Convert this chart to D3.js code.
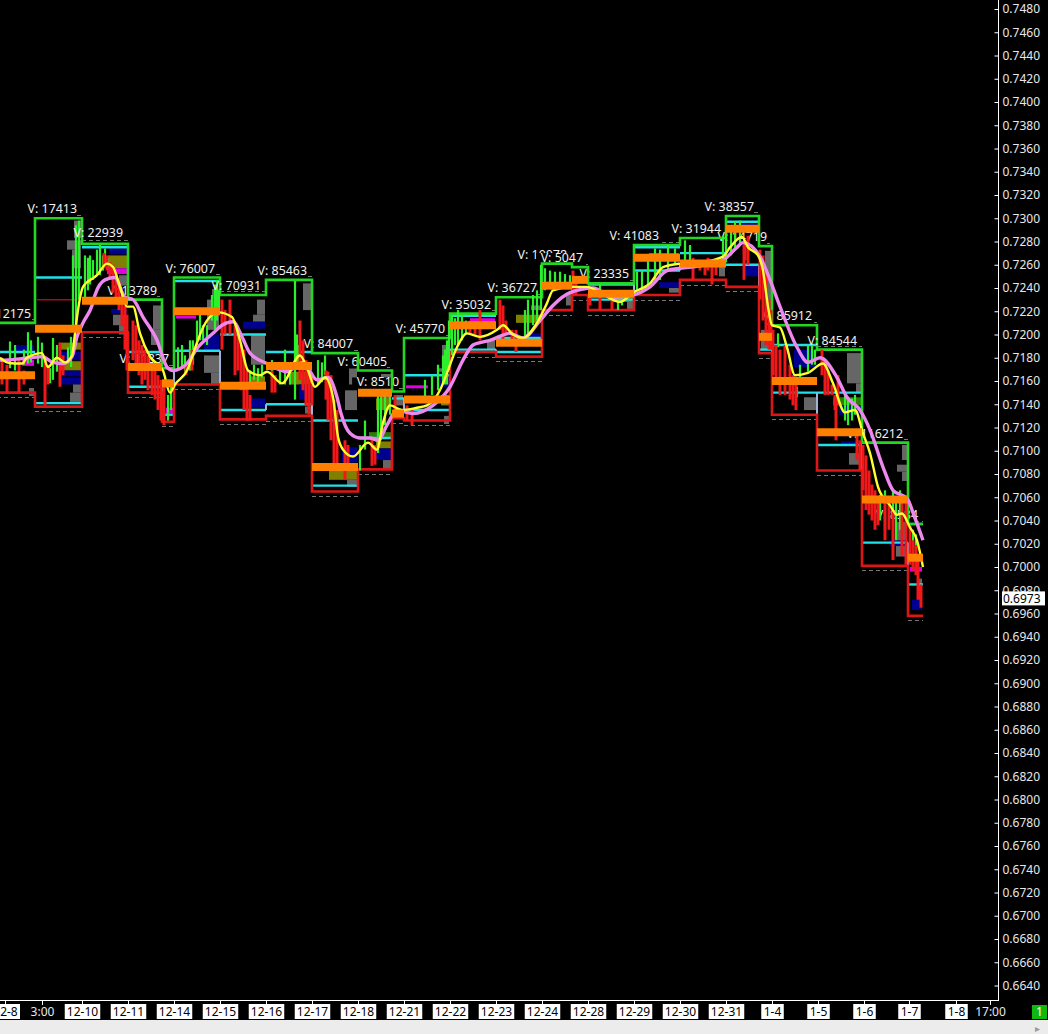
<!DOCTYPE html>
<html><head><meta charset="utf-8">
<script src="https://cdn.jsdelivr.net/npm/d3@7/dist/d3.min.js"></script>
<style>html,body{margin:0;padding:0;background:#000;overflow:hidden}svg{display:block}text{font-family:"Noto Sans",sans-serif}</style>
</head><body><svg id="c" width="1048" height="1034"></svg>
<script>
// prices in pips (price x 10000); bars are bar indices on the time axis
const priceTicks = d3.range(6640, 7481, 20);
const lastPrice = 6973;
const dateTicks = [[5,"12-8",1],[42,"3:00",0],[82,"12-10",1],[128,"12-11",1],[174,"12-14",1],[220,"12-15",1],[266,"12-16",1],[312,"12-17",1],[358,"12-18",1],[404,"12-21",1],[450,"12-22",1],[496,"12-23",1],[542,"12-24",1],[588,"12-28",1],[634,"12-29",1],[680,"12-30",1],[726,"12-31",1],[772,"1-4",1],[818,"1-5",1],[864,"1-6",1],[909,"1-7",1],[956,"1-8",1],[990,"17:00",0]];
const sessionStart = [-10,35,82,128,162,174,220,266,312,358,392,404,450,496,542,572,588,634,680,726,759,772,817,862,908];
const sessionEnd   = [35,82,128,162,174,220,266,312,358,392,404,450,496,542,572,588,634,680,726,759,772,817,862,908,923];
const sessionHigh  = [7210,7300,7278,7230,7171,7249,7234,7247,7184,7169,7151,7197,7218,7232,7261,7258,7244,7277,7283,7302,7276,7208,7187,7107,7037];
const sessionLow   = [7150,7138,7202,7150,7125,7157,7127,7130,7065,7084,7128,7126,7185,7181,7221,7234,7221,7234,7247,7241,7184,7131,7083,7001,6958];
const sessionPoc   = [7165,7205,7229,7172,7158,7220,7156,7173,7086,7150,7132,7144,7208,7193,7242,7247,7235,7266,7261,7291,7198,7160,7116,7058,7008];
const vaHigh = [7185,7249,7275,7185,null,7246,7200,7185,7126,7111,null,7165,7216,7197,null,null,7243,7275,7270,7297,null,7191,7150,null,7037];
const vaLow  = [null,7141,null,7155,7131,7186,7135,7140,7070,null,7145,7135,7187,7185,null,null,7230,7255,7260,7260,7187,7150,7105,7021,6985];
const volumes = ["12175","17413","22939","13789","11837","76007","70931","85463","84007","60405","8510","45770","35032","36727","10078","5047","23335","41083","31944","38357","14719","85912","84544","116212","8584"];
// profile rows: session, top price, bottom price, volume, kind
const profileRows = [
[0,7191,7185,20,"n"],[0,7178,7173,12,"m"],[0,7154,7147,5,"g"],
[1,7298,7283,7,"g"],[1,7281,7273,14,"g"],[1,7273,7257,9,"g"],[1,7193,7187,22,"o"],[1,7185,7178,20,"n"],[1,7177,7169,22,"o"],[1,7169,7164,22,"n"],[1,7163,7157,22,"n"],[1,7157,7150,8,"g"],[1,7150,7142,11,"g"],
[2,7274,7269,18,"n"],[2,7268,7257,19,"o"],[2,7257,7252,20,"m"],[2,7251,7230,8,"g"],[2,7222,7218,16,"n"],[2,7217,7208,14,"g"],[2,7208,7200,8,"g"],
[3,7225,7204,8,"g"],[3,7204,7191,10,"g"],[3,7185,7169,14,"n"],[4,7137,7132,7,"m"],
[5,7239,7230,7,"g"],[5,7230,7204,12,"g"],[5,7200,7187,15,"n"],[5,7182,7167,15,"g"],[5,7167,7157,8,"g"],
[6,7230,7217,8,"g"],[6,7217,7211,12,"g"],[6,7211,7205,22,"n"],[6,7200,7174,14,"g"],[6,7164,7159,15,"o"],[6,7145,7137,15,"n"],
[7,7244,7221,8,"g"],[7,7168,7157,22,"o"],[7,7157,7144,12,"n"],[7,7138,7132,6,"g"],
[8,7174,7157,8,"g"],[8,7152,7135,12,"g"],[8,7103,7090,15,"n"],[8,7083,7075,28,"o"],[8,7075,7069,10,"g"],
[9,7166,7144,10,"g"],[9,7145,7135,15,"o"],[9,7116,7111,22,"d"],[9,7108,7102,15,"o"],[9,7102,7092,15,"n"],[9,7092,7085,8,"g"],
[10,7148,7139,8,"g"],
[11,7191,7178,7,"g"],[11,7171,7168,12,"g"],[11,7163,7155,10,"n"],[11,7148,7139,8,"o"],[11,7130,7123,5,"g"],
[12,7214,7210,25,"m"],[12,7195,7187,8,"g"],
[13,7225,7221,10,"g"],[13,7217,7210,25,"o"],[13,7201,7193,15,"n"],
[14,7236,7225,5,"g"],[16,7228,7222,6,"g"],[16,7232,7228,20,"o"],
[17,7270,7265,30,"o"],[17,7245,7240,20,"n"],[17,7240,7236,10,"g"],
[18,7260,7250,6,"g"],[19,7297,7290,18,"n"],[19,7287,7279,10,"g"],[19,7260,7250,15,"n"],
[20,7272,7208,6,"g"],[20,7204,7187,10,"g"],
[21,7187,7172,22,"n"],[21,7146,7135,12,"g"],
[22,7184,7158,14,"g"],[22,7158,7150,5,"g"],[22,7146,7139,28,"d"],[22,7139,7131,22,"n"],[22,7108,7105,20,"n"],[22,7098,7088,12,"g"],
[23,7105,7092,5,"g"],[23,7088,7082,10,"g"],[23,7082,7074,5,"g"],[23,7046,7009,11,"g"],[23,7023,7018,18,"n"],
[24,6972,6963,10,"n"],[24,6990,6972,5,"g"],[24,7000,6996,12,"m"]];
const levelRows = [[176,196,7215],[406,428,7155]];
const darkLevelRows = [[37,75,7230]];
const yellowBars = [0,7,15,22,27,42,48,57,65,72,75,78,83,97,107,113,120,127,133,140,150,163,170,175,187,197,203,218,232,240,248,260,267,282,300,308,315,325,333,338,343,353,368,377,383,390,402,417,427,441,447,457,467,480,497,503,513,523,537,547,553,573,587,600,620,633,650,663,680,700,723,730,742,748,758,763,768,772,780,787,795,808,823,833,845,855,863,870,878,890,897,902,910,917,923];
const yellowVals = [7180,7176,7175,7175,7180,7184,7172,7180,7176,7182,7201,7221,7241,7251,7261,7258,7241,7224,7224,7201,7181,7169,7150,7157,7169,7193,7206,7219,7215,7195,7169,7165,7168,7158,7182,7169,7155,7163,7146,7112,7101,7095,7107,7101,7124,7139,7135,7137,7139,7154,7167,7189,7201,7198,7204,7208,7200,7197,7210,7227,7238,7241,7241,7236,7228,7236,7244,7258,7261,7262,7267,7275,7284,7275,7268,7255,7224,7208,7206,7189,7165,7167,7175,7158,7133,7135,7115,7098,7069,7053,7045,7046,7034,7023,7000];
const pinkBars = [0,5,30,42,53,63,72,77,83,92,95,105,115,125,133,143,157,167,173,187,197,213,222,233,242,250,267,287,303,317,328,337,341,350,360,370,378,387,397,413,433,450,463,473,480,490,510,523,540,553,570,593,613,633,650,667,680,700,723,737,743,760,770,780,797,808,820,837,847,860,870,883,893,907,915,923];
const pinkVals = [7178,7178,7180,7181,7176,7175,7181,7198,7210,7225,7234,7247,7249,7232,7230,7215,7195,7172,7169,7175,7188,7201,7208,7211,7198,7184,7175,7168,7176,7161,7163,7146,7132,7115,7111,7111,7109,7122,7135,7132,7139,7155,7178,7191,7193,7195,7201,7197,7212,7225,7236,7240,7232,7234,7241,7255,7257,7259,7264,7275,7279,7267,7247,7224,7189,7176,7180,7163,7146,7135,7118,7086,7066,7059,7042,7023];
const upBars = [[10,7194,7171],[15,7191,7169],[24,7187,7174],[28,7202,7175],[31,7195,7176],[38,7198,7175],[42,7193,7172],[50,7171,7158],[53,7197,7161],[57,7191,7168],[68,7189,7175],[71,7198,7172],[73,7268,7204],[76,7294,7204],[79,7298,7230],[85,7268,7230],[88,7266,7238],[90,7268,7243],[93,7264,7247],[97,7273,7251],[100,7277,7251],[103,7268,7255],[105,7274,7260],[108,7266,7257],[168,7148,7126],[171,7157,7135],[178,7189,7169],[182,7191,7171],[185,7182,7168],[190,7195,7169],[193,7195,7174],[197,7212,7191],[200,7217,7195],[203,7208,7195],[207,7208,7191],[212,7234,7212],[215,7243,7204],[217,7247,7212],[219,7238,7221],[250,7169,7159],[254,7174,7161],[258,7171,7159],[262,7174,7163],[272,7178,7159],[280,7169,7157],[285,7187,7157],[290,7169,7157],[295,7246,7144],[297,7200,7174],[299,7191,7174],[318,7178,7157],[322,7176,7159],[325,7182,7165],[360,7105,7083],[365,7126,7101],[378,7148,7098],[381,7148,7109],[385,7152,7122],[390,7148,7131],[425,7161,7145],[432,7165,7148],[438,7174,7152],[443,7182,7157],[445,7187,7157],[447,7195,7157],[449,7212,7169],[452,7217,7182],[455,7214,7191],[458,7221,7191],[462,7217,7195],[466,7212,7200],[525,7221,7195],[528,7230,7200],[533,7234,7208],[537,7238,7212],[541,7260,7221],[545,7257,7238],[550,7255,7243],[555,7254,7243],[560,7254,7245],[565,7252,7240],[570,7251,7240],[600,7243,7234],[618,7238,7221],[622,7234,7225],[637,7254,7238],[642,7255,7236],[648,7268,7243],[655,7274,7247],[660,7273,7247],[668,7277,7255],[675,7274,7260],[685,7281,7260],[690,7277,7262],[723,7285,7264],[726,7290,7262],[731,7294,7268],[735,7297,7273],[740,7298,7277],[778,7201,7189],[797,7155,7146],[800,7174,7157],[808,7191,7168],[812,7191,7174],[815,7187,7174],[845,7148,7126],[848,7144,7122],[852,7145,7126],[855,7148,7131],[880,7062,7040],[885,7066,7032],[893,7066,7036],[896,7059,7023],[900,7066,7032],[913,7032,7015],[916,7028,7006]];
const downBars = [[2,7180,7157],[7,7174,7150],[19,7178,7150],[24,7169,7157],[45,7181,7139],[48,7174,7157],[60,7193,7155],[63,7182,7165],[104,7270,7257],[107,7268,7255],[110,7262,7247],[113,7260,7236],[116,7254,7230],[119,7245,7221],[122,7234,7208],[125,7225,7187],[127,7217,7169],[133,7212,7178],[136,7208,7169],[139,7195,7165],[142,7191,7157],[145,7187,7161],[148,7182,7152],[152,7174,7148],[155,7171,7144],[158,7165,7135],[161,7161,7126],[164,7157,7122],[186,7174,7165],[192,7187,7169],[222,7230,7187],[225,7221,7200],[230,7230,7200],[235,7208,7165],[238,7204,7169],[241,7191,7152],[244,7187,7135],[247,7169,7126],[250,7148,7126],[272,7169,7150],[275,7165,7150],[300,7212,7161],[303,7195,7152],[306,7178,7139],[309,7169,7131],[312,7165,7139],[326,7169,7144],[328,7168,7126],[331,7165,7109],[334,7144,7083],[337,7135,7083],[345,7109,7075],[348,7105,7083],[372,7111,7087],[375,7105,7088],[395,7148,7135],[407,7139,7126],[412,7135,7122],[470,7212,7200],[475,7208,7200],[480,7221,7195],[500,7230,7204],[503,7225,7195],[506,7212,7200],[512,7204,7191],[516,7204,7185],[573,7255,7234],[576,7247,7234],[590,7238,7225],[600,7238,7221],[612,7234,7221],[693,7266,7247],[700,7262,7255],[705,7264,7251],[708,7266,7255],[712,7264,7243],[716,7262,7251],[744,7277,7247],[745,7281,7264],[748,7285,7260],[760,7273,7230],[763,7268,7212],[766,7255,7191],[769,7230,7187],[771,7221,7187],[773,7204,7165],[776,7191,7161],[780,7187,7148],[785,7191,7148],[790,7174,7144],[793,7165,7139],[796,7161,7135],[822,7187,7165],[825,7178,7148],[828,7169,7148],[832,7157,7148],[835,7148,7135],[836,7148,7109],[838,7165,7139],[857,7118,7092],[860,7109,7083],[863,7105,7066],[866,7096,7049],[869,7083,7045],[872,7071,7040],[875,7066,7032],[878,7058,7036],[885,7058,7023],[889,7058,7032],[893,7049,7006],[902,7058,7010],[906,7058,7002],[910,7036,7002],[913,7023,6997],[916,7019,6993],[918,7006,6972],[921,6985,6965]];

const x = d3.scaleLinear().domain([0,998]).range([0,998]);
const y = d3.scaleLinear().domain([6640,7480]).range([985.5,9]);
const vol = d3.scaleLinear().domain([0,1]).range([0,1]);
const fmt = d => (d/10000).toFixed(4);
const kinds = {g:"#666666",n:"#000090",o:"#808000",m:"#e000e0",d:"#2f7a00"};
const labelNudge = {0:1,17:-16};
const labelsOnTop = [2,6,22];
const svg = d3.select("#c");
svg.append("rect").attr("width",1048).attr("height",1034).attr("fill","#000");
svg.append("rect").attr("y",1020).attr("width",1048).attr("height",14).attr("fill","#ececec");
const plot = svg.append("g");
plot.append("defs").append("clipPath").attr("id","pc").append("rect").attr("width",998).attr("height",1000);
const g = plot.append("g").attr("clip-path","url(#pc)");
const idx = d3.range(sessionStart.length);

// profiles
g.append("g").selectAll("rect").data(profileRows).join("rect")
 .attr("x",d=>x(sessionEnd[d[0]])-1-vol(d[3])).attr("width",d=>vol(d[3]))
 .attr("y",d=>y(d[1])).attr("height",d=>y(d[2])-y(d[1])).attr("fill",d=>kinds[d[4]]);
g.append("g").selectAll("line").data(levelRows).join("line")
 .attr("x1",d=>x(d[0])).attr("x2",d=>x(d[1])).attr("y1",d=>y(d[2])).attr("y2",d=>y(d[2])).attr("stroke","#e000e0").attr("stroke-width",3);
g.append("g").selectAll("line").data(darkLevelRows).join("line")
 .attr("x1",d=>x(d[0])).attr("x2",d=>x(d[1])).attr("y1",d=>y(d[2])).attr("y2",d=>y(d[2])).attr("stroke","#a01010").attr("stroke-width",1.5);
// dashed range
const dash = g.append("g").attr("stroke","#777").attr("stroke-dasharray","4 3");
idx.forEach(i=>{
  const a = Math.round(y(sessionLow[i]-4))+.5, b = Math.round(y(sessionHigh[i]+3))+.5;
  dash.append("line").attr("x1",x(sessionStart[i])).attr("x2",x(sessionEnd[i])).attr("y1",a).attr("y2",a);
  dash.append("line").attr("x1",x(sessionStart[i])).attr("x2",x(sessionEnd[i])).attr("y1",b).attr("y2",b);
});
// volume labels with their black backing
const lab = g.append("g");
const labelX = i => x(sessionEnd[i])-5+(labelNudge[i]||0);
const labelY = i => y(sessionHigh[i])-5;
idx.filter(i=>!labelsOnTop.includes(i)).forEach(i=>{
  const t = "V: "+volumes[i];
  const w = t.length*6.7;
  lab.append("rect").attr("x",labelX(i)-w).attr("y",labelY(i)-9).attr("width",w).attr("height",12).attr("fill","#000");
  lab.append("text").attr("x",labelX(i)).attr("y",labelY(i)).attr("text-anchor","end").attr("font-size",12.4).attr("fill","#f0f0f0").text(t);
});
// value area
const va = g.append("g");
idx.forEach(i=>{
  [vaHigh,vaLow].forEach(a=>{ if(a[i]!=null){
    va.append("line").attr("x1",x(sessionStart[i])).attr("x2",x(sessionEnd[i])).attr("y1",y(a[i])).attr("y2",y(a[i])).attr("stroke","#22e0e8").attr("stroke-width",2.4);
  }});
  if(i>0 && vaLow[i]!=null && vaLow[i-1]!=null){
    va.append("line").attr("x1",x(sessionStart[i])).attr("x2",x(sessionStart[i])).attr("y1",y(vaLow[i-1])).attr("y2",y(vaLow[i])).attr("stroke","#9fb4d8").attr("stroke-width",2);
  }
});
// session high/low steps
const stepData = a => idx.map(i=>[sessionStart[i],a[i]]).concat([[sessionEnd[idx.length-1],a[idx.length-1]]]);
const step = d3.line().x(d=>x(d[0])).y(d=>y(d[1])).curve(d3.curveStepAfter);
g.append("path").attr("d",step(stepData(sessionHigh))).attr("fill","none").attr("stroke","#22d622").attr("stroke-width",2.6);
g.append("path").attr("d",step(stepData(sessionLow))).attr("fill","none").attr("stroke","#dc1616").attr("stroke-width",2.6);
// bars
g.append("g").selectAll("line").data(upBars).join("line")
 .attr("x1",d=>x(d[0])).attr("x2",d=>x(d[0])).attr("y1",d=>y(d[1])).attr("y2",d=>y(d[2])).attr("stroke","#2cf02c").attr("stroke-width",2.2);
g.append("g").selectAll("line").data(downBars).join("line")
 .attr("x1",d=>x(d[0])).attr("x2",d=>x(d[0])).attr("y1",d=>y(d[1])).attr("y2",d=>y(d[2])).attr("stroke","#f01818").attr("stroke-width",3);
// labels that sit over the earlier session's bars
labelsOnTop.forEach(i=>{
  g.append("text").attr("x",labelX(i)).attr("y",labelY(i)-(i===2?2:0)).attr("text-anchor","end").attr("font-size",12.4).attr("fill","#f0f0f0").text("V: "+volumes[i]);
});
// averages
const smooth = d3.line().x(d=>x(d[0])).y(d=>y(d[1])).curve(d3.curveMonotoneX);
g.append("path").attr("d",smooth(d3.zip(pinkBars,pinkVals))).attr("fill","none").attr("stroke","#ee88ee").attr("stroke-width",3.4);
g.append("path").attr("d",smooth(d3.zip(yellowBars,yellowVals))).attr("fill","none").attr("stroke","#ffff30").attr("stroke-width",2.4);
// point of control
g.append("g").selectAll("line").data(idx).join("line")
 .attr("x1",i=>x(sessionStart[i])).attr("x2",i=>x(sessionEnd[i])).attr("y1",i=>y(sessionPoc[i])).attr("y2",i=>y(sessionPoc[i])).attr("stroke","#ff8000").attr("stroke-width",8);

// price axis
const yAxis = d3.axisRight(y).tickValues(priceTicks).tickFormat(fmt).tickSizeInner(-4).tickSizeOuter(0).tickPadding(4);
const ya = svg.append("g").attr("transform","translate(998.5,0)").call(yAxis);
ya.select(".domain").remove();
ya.selectAll("line").attr("stroke","#fff");
ya.selectAll("text").attr("fill","#e8e8e8").attr("font-size",12).attr("font-family",'"Noto Sans",sans-serif');
svg.append("line").attr("x1",998.5).attr("x2",998.5).attr("y1",0).attr("y2",1001).attr("stroke","#fff");
svg.append("line").attr("x1",0).attr("x2",999).attr("y1",1000.5).attr("y2",1000.5).attr("stroke","#fff");
// last price tag
svg.append("rect").attr("x",1002).attr("y",y(lastPrice)-7).attr("width",43).attr("height",14).attr("fill","#fff");
svg.append("text").attr("x",1003).attr("y",y(lastPrice)+4.5).attr("font-size",12).attr("fill","#000").text(fmt(lastPrice));
// time axis
const xg = svg.append("g");
dateTicks.forEach(([b,t,box])=>{
  xg.append("line").attr("x1",x(b)+.5).attr("x2",x(b)+.5).attr("y1",1001).attr("y2",1005).attr("stroke","#fff");
  const w = t.length*6.5+3;
  if(box) xg.append("rect").attr("x",x(b)-w/2+.5).attr("y",1004).attr("width",w).attr("height",15).attr("fill","#fff");
  xg.append("text").attr("x",x(b)+.5).attr("y",1016).attr("text-anchor","middle").attr("font-size",12).attr("fill",box?"#000":"#e8e8e8").text(t);
});
svg.append("rect").attr("x",1032).attr("y",1005).attr("width",15).attr("height",14).attr("fill","#10b810");
svg.append("text").attr("x",1039.5).attr("y",1016).attr("text-anchor","middle").attr("font-size",12).attr("fill","#fff").text("1");
svg.append("text").attr("x",1035).attr("y",1032).attr("font-size",10).attr("fill","#999").text("▸");
</script></body></html>
